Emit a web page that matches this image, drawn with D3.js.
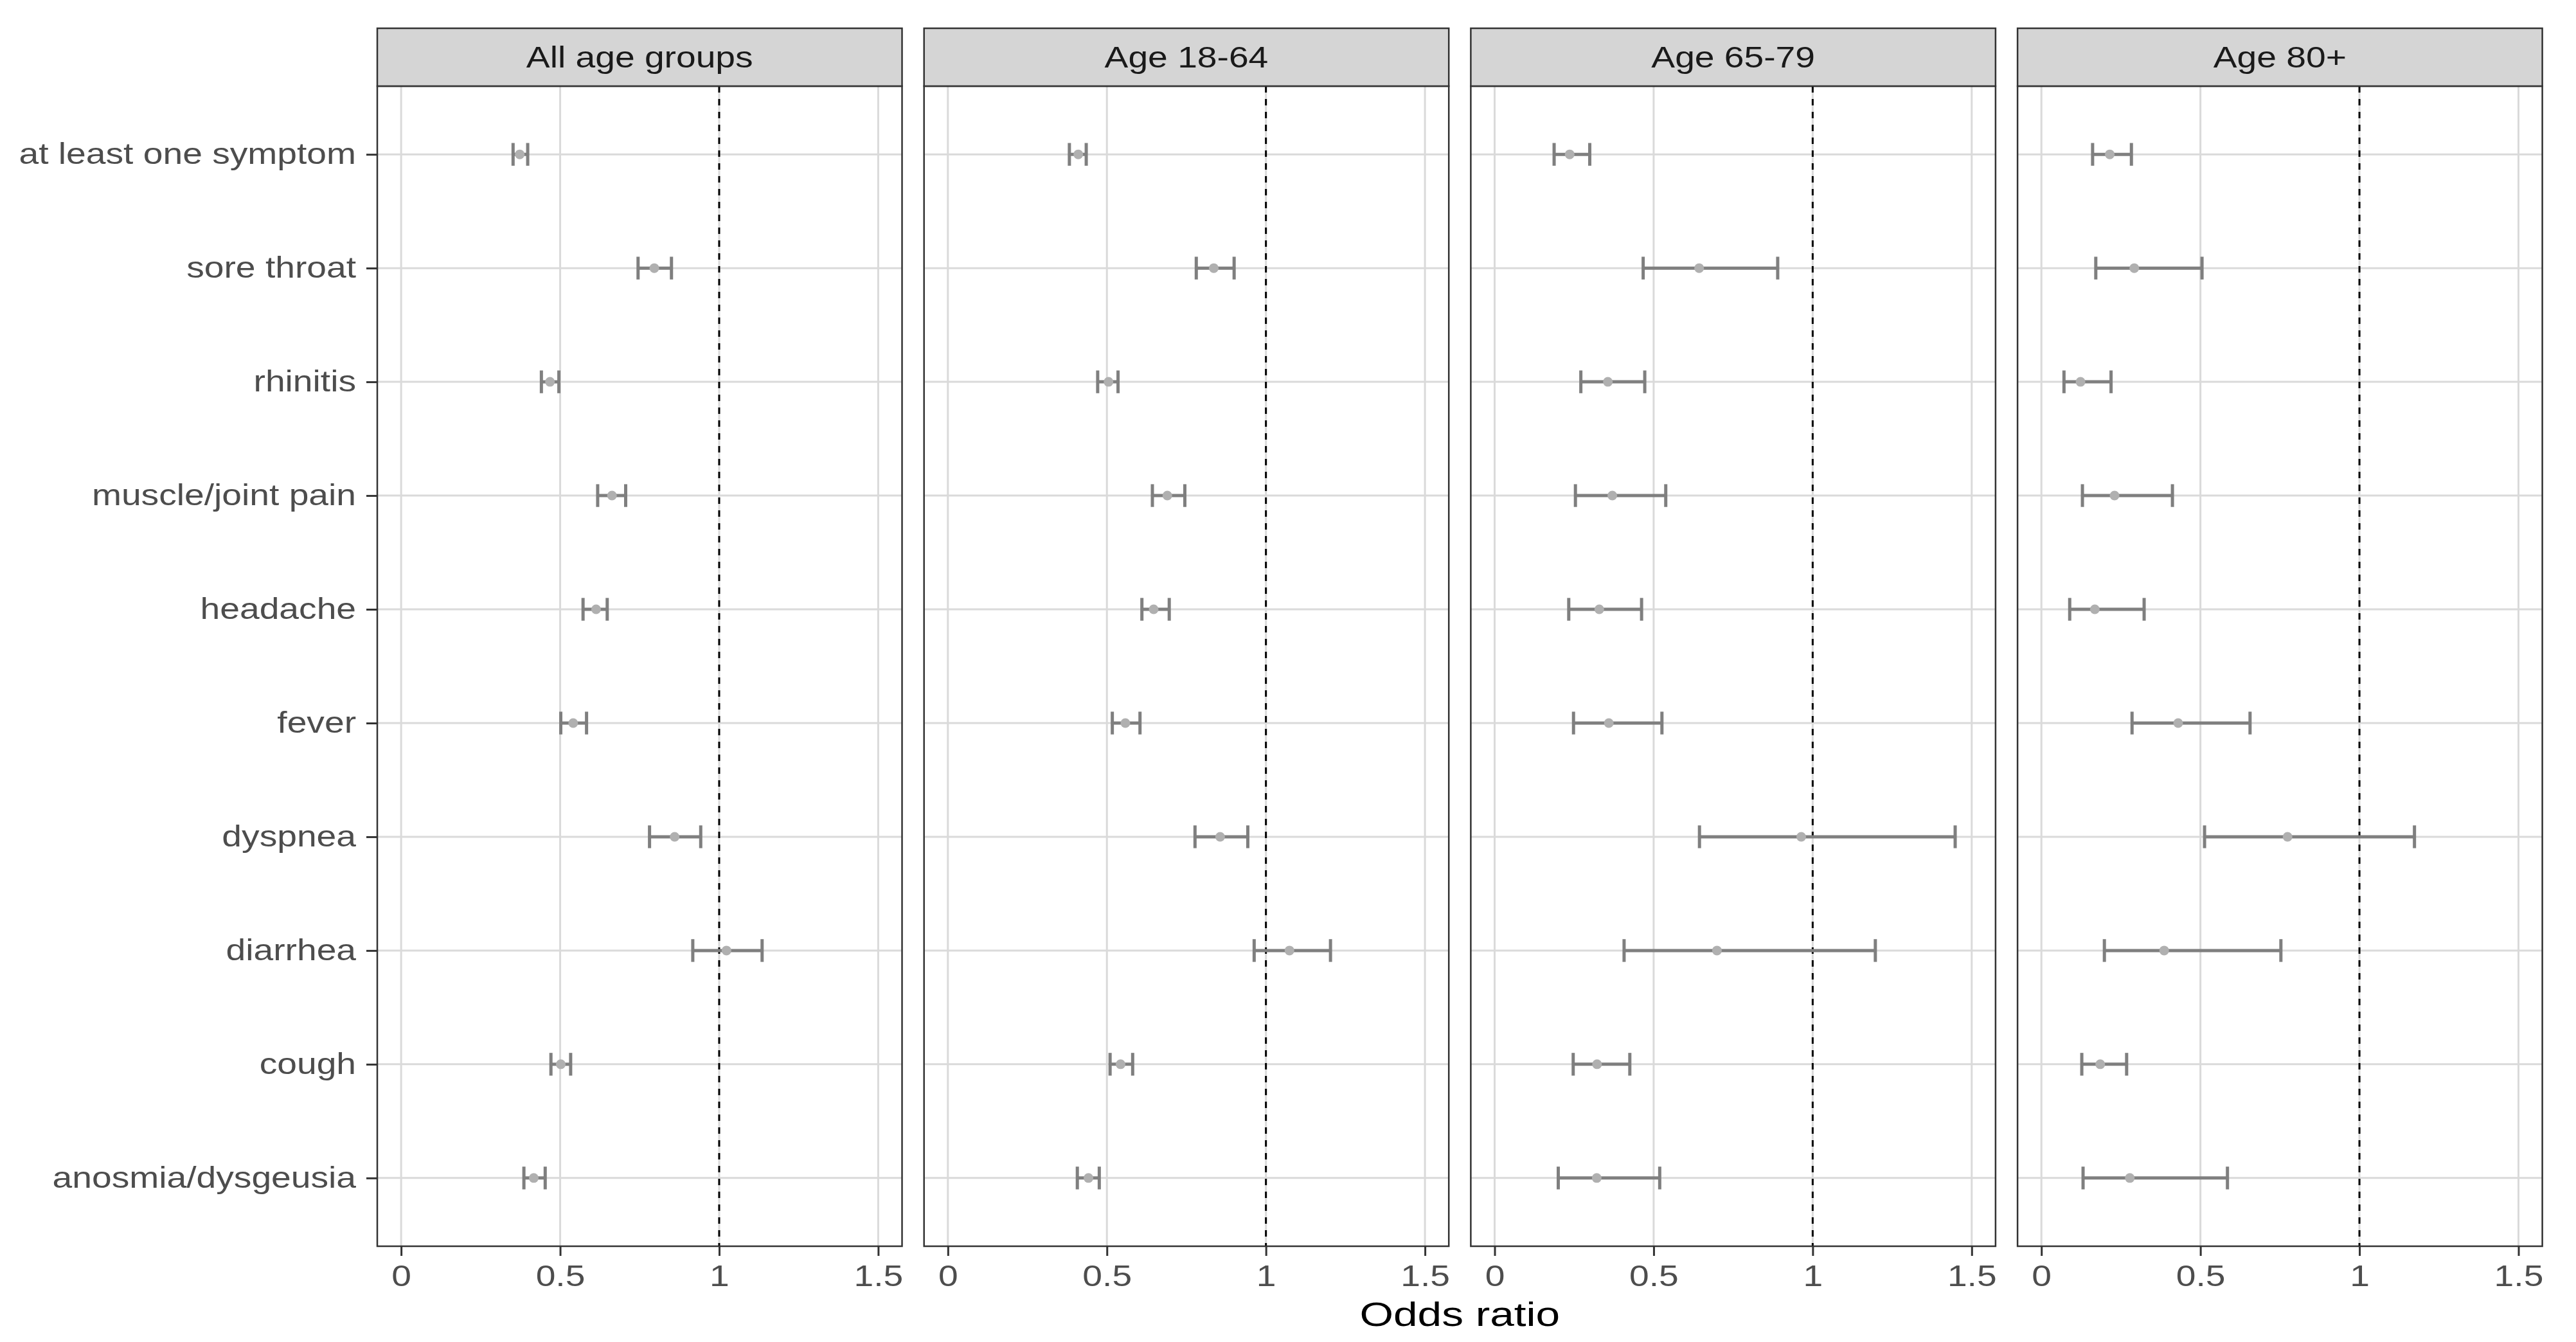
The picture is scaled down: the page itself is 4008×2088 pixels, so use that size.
<!DOCTYPE html>
<html>
<head>
<meta charset="utf-8">
<script src="https://cdn.jsdelivr.net/npm/d3@7"></script>
<style>
  html, body { margin: 0; padding: 0; background: #ffffff; }
  svg { display: block; }
  text { font-family: "Liberation Sans", Arial, sans-serif; }
</style>
</head>
<body>
<div id="chart"></div>
<script>
// ---------------- data ----------------
const symptoms = ["at least one symptom", "sore throat", "rhinitis", "muscle/joint pain",
  "headache", "fever", "dyspnea", "diarrhea", "cough", "anosmia/dysgeusia"];
const groups = ["All age groups", "Age 18-64", "Age 65-79", "Age 80+"];
const xTicks = [0, 0.5, 1, 1.5];
const xTickLabels = ["0", "0.5", "1", "1.5"];
const refLine = 1;

const oddsAll = [0.373, 0.796, 0.468, 0.663, 0.613, 0.541, 0.860, 1.023, 0.502, 0.417];
const lowerAll = [0.352, 0.745, 0.441, 0.618, 0.572, 0.502, 0.781, 0.917, 0.471, 0.386];
const upperAll = [0.398, 0.850, 0.496, 0.706, 0.648, 0.583, 0.942, 1.135, 0.533, 0.453];

const odds1864 = [0.410, 0.836, 0.505, 0.690, 0.647, 0.558, 0.856, 1.074, 0.543, 0.442];
const lower1864 = [0.382, 0.781, 0.471, 0.643, 0.610, 0.517, 0.777, 0.963, 0.510, 0.407];
const upper1864 = [0.435, 0.900, 0.535, 0.745, 0.696, 0.604, 0.943, 1.203, 0.581, 0.476];

const odds6579 = [0.236, 0.643, 0.356, 0.370, 0.329, 0.359, 0.964, 0.699, 0.322, 0.321];
const lower6579 = [0.187, 0.467, 0.271, 0.254, 0.233, 0.248, 0.644, 0.407, 0.247, 0.200];
const upper6579 = [0.299, 0.890, 0.472, 0.538, 0.462, 0.526, 1.448, 1.197, 0.425, 0.519];

const odds80 = [0.215, 0.292, 0.123, 0.230, 0.168, 0.430, 0.774, 0.386, 0.185, 0.278];
const lower80 = [0.161, 0.171, 0.071, 0.129, 0.089, 0.285, 0.513, 0.198, 0.127, 0.131];
const upper80 = [0.283, 0.505, 0.219, 0.412, 0.323, 0.656, 1.173, 0.753, 0.268, 0.585];

const oddsByGroup = [oddsAll, odds1864, odds6579, odds80];
const lowerByGroup = [lowerAll, lower1864, lower6579, lower80];
const upperByGroup = [upperAll, upper1864, upper6579, upper80];

// ---------------- layout ----------------
const W = 4008, H = 2088;
const panelLeft0 = 587, panelStep = 850.7, panelW = 816.5;
const stripTop = 44, panelTop = 134, panelBottom = 1939;
const sx = 1.2;          // horizontal text stretch of the reference
const fs = 46;           // axis / strip text size

const svg = d3.select("#chart").append("svg")
  .attr("width", W).attr("height", H)
  .attr("viewBox", `0 0 ${W} ${H}`);
svg.append("rect").attr("width", W).attr("height", H).attr("fill", "#ffffff");

const y = d3.scalePoint().domain(symptoms).range([panelTop, panelBottom]).padding(0.6);

groups.forEach((g, gi) => {
  const left = panelLeft0 + gi * panelStep;
  const x = d3.scaleLinear().domain([-0.075, 1.575]).range([left, left + panelW]);
  const rows = symptoms.map((s, i) => ({
    s, or: oddsByGroup[gi][i], lo: lowerByGroup[gi][i], hi: upperByGroup[gi][i]
  }));

  const pg = svg.append("g");

  // grid
  pg.selectAll("line.gx").data(xTicks).join("line")
    .attr("x1", d => x(d)).attr("x2", d => x(d))
    .attr("y1", panelTop).attr("y2", panelBottom)
    .attr("stroke", "#dadada").attr("stroke-width", 3);
  pg.selectAll("line.gy").data(symptoms).join("line")
    .attr("x1", left).attr("x2", left + panelW)
    .attr("y1", d => y(d)).attr("y2", d => y(d))
    .attr("stroke", "#dadada").attr("stroke-width", 3);

  // reference line
  pg.append("line")
    .attr("x1", x(refLine)).attr("x2", x(refLine))
    .attr("y1", panelTop).attr("y2", panelBottom)
    .attr("stroke", "#000000").attr("stroke-width", 3)
    .attr("stroke-dasharray", "10,10");

  // error bars
  const capH = y.step() * 0.1;
  const eb = pg.append("g").attr("stroke", "#7f7f7f").attr("stroke-width", 5).attr("fill", "none");
  eb.selectAll("line.bar").data(rows).join("line")
    .attr("x1", d => x(d.lo)).attr("x2", d => x(d.hi))
    .attr("y1", d => y(d.s)).attr("y2", d => y(d.s));
  eb.selectAll("line.lc").data(rows).join("line")
    .attr("x1", d => x(d.lo)).attr("x2", d => x(d.lo))
    .attr("y1", d => y(d.s) - capH).attr("y2", d => y(d.s) + capH);
  eb.selectAll("line.hc").data(rows).join("line")
    .attr("x1", d => x(d.hi)).attr("x2", d => x(d.hi))
    .attr("y1", d => y(d.s) - capH).attr("y2", d => y(d.s) + capH);

  // points
  pg.selectAll("circle").data(rows).join("circle")
    .attr("cx", d => x(d.or)).attr("cy", d => y(d.s)).attr("r", 7.5)
    .attr("fill", "#b0b0b0");

  // panel border
  pg.append("rect")
    .attr("x", left).attr("y", panelTop).attr("width", panelW).attr("height", panelBottom - panelTop)
    .attr("fill", "none").attr("stroke", "#333333").attr("stroke-width", 2.5);

  // strip
  pg.append("rect")
    .attr("x", left).attr("y", stripTop).attr("width", panelW).attr("height", panelTop - stripTop)
    .attr("fill", "#d5d5d5").attr("stroke", "#333333").attr("stroke-width", 2.5);
  pg.append("text")
    .attr("transform", `translate(${left + panelW / 2},${(stripTop + panelTop) / 2}) scale(${sx},1)`)
    .attr("text-anchor", "middle").attr("dy", "0.35em")
    .attr("font-size", fs).attr("fill", "#1a1a1a")
    .text(g);

  // x axis
  const xa = svg.append("g").attr("transform", `translate(0,${panelBottom})`)
    .call(d3.axisBottom(x).tickValues(xTicks)
      .tickFormat((d, i) => xTickLabels[i]).tickSize(15).tickPadding(14));
  xa.select(".domain").remove();
  xa.selectAll(".tick line").attr("stroke", "#333333").attr("stroke-width", 3);
  xa.selectAll(".tick text")
    .attr("font-size", fs).attr("fill", "#4d4d4d")
    .attr("font-family", "Liberation Sans, Arial, sans-serif")
    .attr("transform", `scale(${sx},1)`);

  // y axis on first panel only
  if (gi === 0) {
    const ya = svg.append("g").attr("transform", `translate(${left},0)`)
      .call(d3.axisLeft(y).tickSize(17).tickPadding(16));
    ya.select(".domain").remove();
    ya.selectAll(".tick line").attr("stroke", "#333333").attr("stroke-width", 3);
    ya.selectAll(".tick text")
      .attr("font-size", fs).attr("fill", "#4d4d4d")
      .attr("font-family", "Liberation Sans, Arial, sans-serif")
      .attr("x", -33 / sx)
      .attr("transform", `scale(${sx},1)`);
  }
});

// x-axis title
const cx = (panelLeft0 + panelLeft0 + 3 * panelStep + panelW) / 2;
svg.append("text")
  .attr("transform", `translate(${cx},2063) scale(1.3,1)`)
  .attr("text-anchor", "middle")
  .attr("font-size", 52).attr("fill", "#000000")
  .text("Odds ratio");
</script>
</body>
</html>
